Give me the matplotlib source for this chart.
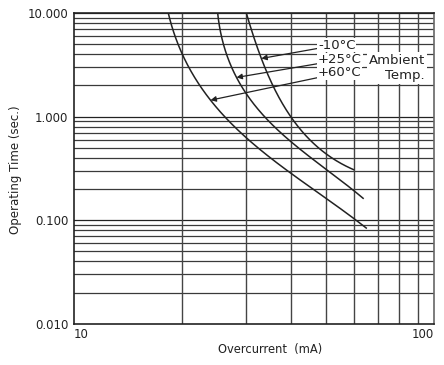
import matplotlib
matplotlib.use("Agg")
import matplotlib.pyplot as plt
import numpy as np

# Data (Overcurrent mA, Operating time s)
i_m10 = [30.0, 31.2, 32.5, 33.0, 34.3, 35.8, 40.3, 45.2, 49.8, 59.7]
t_m10 = [10.0, 6.85, 4.56, 3.65, 2.92, 1.80, 0.95, 0.594, 0.458, 0.305]

i_p25 = [24.9, 25.7, 26.6, 27.7, 28.9, 30.0, 32.9, 35.0, 40.3, 49.8, 63.6]
t_p25 = [10.0, 6.85, 4.08, 2.71, 2.02, 1.68, 1.10, 0.829, 0.617, 0.305, 0.163]

i_p60 = [18.2, 19.1, 20.0, 21.0, 22.1, 24.1, 26.6, 30.3, 32.9, 40.3, 49.8, 59.7, 65.3]
t_p60 = [10.0, 6.37, 4.08, 2.82, 2.02, 1.45, 0.926, 0.594, 0.476, 0.305, 0.157, 0.100, 0.086]

labels = ["-10°C", "+25°C", "+60°C"]
arrow_t = [3.65, 2.37, 1.45]          # operating time where each arrow touches its curve
y_ticks = [0.01, 0.1, 1, 10]
y_tick_labels = ["0.010", "0.100", "1.000", "10.000"]

plt.rcParams['font.family'] = ['DejaVu Sans']

fig = plt.figure(figsize=(4.44, 3.65), dpi=100)
ax = fig.add_axes([74/444, 1 - 323.7/365, 360/444, 310.7/365])
ax.set_xscale('log')
ax.set_yscale('log')
ax.set_xlim(10, 100)
ax.set_ylim(0.01, 10)


def fit_curve(xs, ys, deg=3, n=300):
    """Smooth curve through the read points: cubic fit in a 45°-rotated screen frame."""
    P = ax.transData.transform(np.column_stack([xs, ys]))
    u = (P[:, 0] - P[:, 1]) / np.sqrt(2)
    v = (P[:, 0] + P[:, 1]) / np.sqrt(2)
    c = np.polyfit(u, v, deg)
    uu = np.linspace(u.min(), u.max(), n)
    vv = np.polyval(c, uu)
    Q = np.column_stack([(uu + vv) / np.sqrt(2), (vv - uu) / np.sqrt(2)])
    D = ax.transData.inverted().transform(Q)
    return D[:, 0], D[:, 1]


# grid
for dec in [0.01, 0.1, 1]:
    for k in range(2, 10):
        ax.axhline(dec * k, color='#3a3a3a', lw=0.9, zorder=1)
    ax.axhline(dec * 10, color='#222222', lw=0.9, zorder=1)
for k in range(2, 10):
    ax.axvline(10 * k, color='#444444', lw=1.0, zorder=1)

lc = '#222222'
tips = []
for (xs, ys), at in zip([(i_m10, t_m10), (i_p25, t_p25), (i_p60, t_p60)], arrow_t):
    sx, sy = fit_curve(xs, ys)
    ax.plot(sx, sy, color=lc, lw=1.1, zorder=3)
    j = np.argmin(np.abs(np.log10(sy) - np.log10(at)))
    tips.append((sx[j], sy[j]))

ax.set_yticks(y_ticks)
ax.set_yticklabels(y_tick_labels)
ax.set_xticks([10, 100])
ax.set_xticklabels(["10", "100"])
ax.xaxis.set_minor_locator(matplotlib.ticker.NullLocator())
ax.yaxis.set_minor_locator(matplotlib.ticker.NullLocator())
ax.tick_params(axis='both', length=0, labelsize=8.5, colors='#222222')
ax.tick_params(axis='y', pad=4)
ax.tick_params(axis='x', pad=3)
for lab, ha in zip(ax.get_xticklabels(), ['left', 'right']):
    lab.set_horizontalalignment(ha)

for s in ['left', 'bottom']:
    ax.spines[s].set_color('#222222'); ax.spines[s].set_linewidth(1.2)
ax.spines['top'].set_color('#222222'); ax.spines['top'].set_linewidth(1.2)
ax.spines['right'].set_color('#666666'); ax.spines['right'].set_linewidth(1.2)

# annotations
ty = [0.897, 0.849, 0.807]
for lab, tip, yy in zip(labels, tips, ty):
    ax.annotate(lab, xy=tip, xycoords='data', xytext=(0.678, yy), textcoords='axes fraction',
                ha='left', va='center', fontsize=9.5, color='#222222', zorder=5,
                bbox=dict(boxstyle='square,pad=0.05', fc='white', ec='none'),
                arrowprops=dict(arrowstyle='-|>', color='#222222', lw=0.9,
                                shrinkA=0, shrinkB=0, mutation_scale=8))
ax.text(0.975, 0.823, "Ambient\nTemp.", transform=ax.transAxes, ha='right', va='center',
        fontsize=9.5, color='#222222', linespacing=1.15, multialignment='right', zorder=5,
        bbox=dict(boxstyle='square,pad=0.15', fc='white', ec='none'))

fig.text(270/444, 1 - 349/365, "Overcurrent  (mA)", ha='center', va='center', fontsize=8.3, color='#222222')
fig.text(16/444, 1 - 170/365, "Operating Time (sec.)", ha='center', va='center', rotation=90,
         fontsize=8.5, color='#222222')

fig.savefig("out.png", dpi=100)
